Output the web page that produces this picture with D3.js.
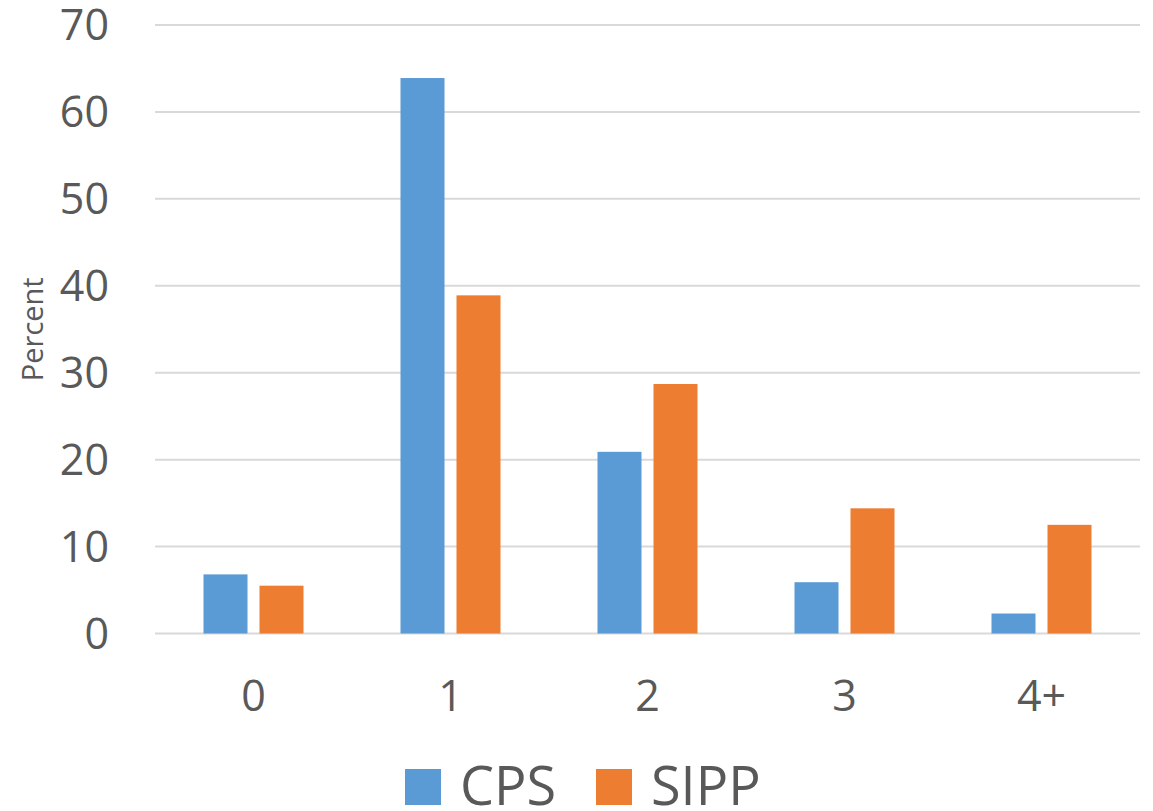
<!DOCTYPE html>
<html>
<head>
<meta charset="utf-8">
<script src="https://cdn.jsdelivr.net/npm/d3@7"></script>
<style>
  html, body { margin: 0; padding: 0; background: #fff; }
  svg { display: block; font-family: "Open Sans", "Noto Sans", sans-serif; }
</style>
</head>
<body>
<svg id="chart" width="1153" height="811"></svg>
<script>
const categories = ["0", "1", "2", "3", "4+"];
const seriesNames = ["CPS", "SIPP"];
const cpsValues = [6.8, 63.9, 20.9, 5.9, 2.3];
const sippValues = [5.5, 38.9, 28.7, 14.4, 12.5];
const yTicks = [0, 10, 20, 30, 40, 50, 60, 70];
const colors = ["#5B9BD5", "#ED7D31"];

const svg = d3.select("#chart");
const plotLeft = 155, plotRight = 1140, plotTop = 25, plotBottom = 633.5;

const x0 = d3.scaleBand().domain(categories).range([plotLeft, plotRight])
  .paddingInner(0.4924).paddingOuter(0.2462);
const x1 = d3.scaleBand().domain(seriesNames).range([0, x0.bandwidth()])
  .paddingInner(0.2143);
const y = d3.scaleLinear().domain([0, 70]).range([plotBottom, plotTop]);

// gridlines
svg.append("g").selectAll("line").data(yTicks).join("line")
  .attr("x1", plotLeft).attr("x2", plotRight)
  .attr("y1", d => y(d)).attr("y2", d => y(d))
  .attr("stroke", "#D9D9D9").attr("stroke-width", 2);

// y axis labels
const yAxis = svg.append("g").attr("transform", `translate(${plotLeft},0)`)
  .call(d3.axisLeft(y).tickValues(yTicks).tickSize(0).tickPadding(46));
yAxis.select(".domain").remove();
yAxis.selectAll("text").attr("font-size", 43).attr("fill", "#595959")
  .attr("font-family", "'Open Sans', sans-serif").attr("dy", "0.34em");

// x axis labels
const xAxis = svg.append("g").attr("transform", `translate(0,${plotBottom})`)
  .call(d3.axisBottom(x0).tickSize(0).tickPadding(47));
xAxis.select(".domain").remove();
xAxis.selectAll("text").attr("font-size", 43).attr("fill", "#595959")
  .attr("font-family", "'Open Sans', sans-serif");

// bars
const rows = categories.map((c, i) => ({ cat: c, vals: [cpsValues[i], sippValues[i]] }));
const groups = svg.append("g").selectAll("g").data(rows).join("g")
  .attr("transform", d => `translate(${x0(d.cat)},0)`);
groups.selectAll("rect").data(d => d.vals.map((v, j) => ({ s: seriesNames[j], v, j })))
  .join("rect")
  .attr("x", d => x1(d.s))
  .attr("width", x1.bandwidth())
  .attr("y", d => y(d.v))
  .attr("height", d => y(0) - y(d.v))
  .attr("fill", d => colors[d.j]);

// y title
svg.append("text")
  .attr("transform", `translate(43,${(plotTop + plotBottom) / 2}) rotate(-90)`)
  .attr("text-anchor", "middle")
  .attr("font-size", 29).attr("fill", "#595959")
  .text("Percent");

// legend
const legendX = [405, 596];
const leg = svg.append("g").selectAll("g").data(seriesNames).join("g")
  .attr("transform", (d, i) => `translate(${legendX[i]},769)`);
leg.append("rect").attr("width", 36).attr("height", 36)
  .attr("fill", (d, i) => colors[i]);
leg.append("text").attr("x", 55).attr("y", 36)
  .attr("font-size", 54).attr("fill", "#595959")
  .text(d => d);
</script>
</body>
</html>
